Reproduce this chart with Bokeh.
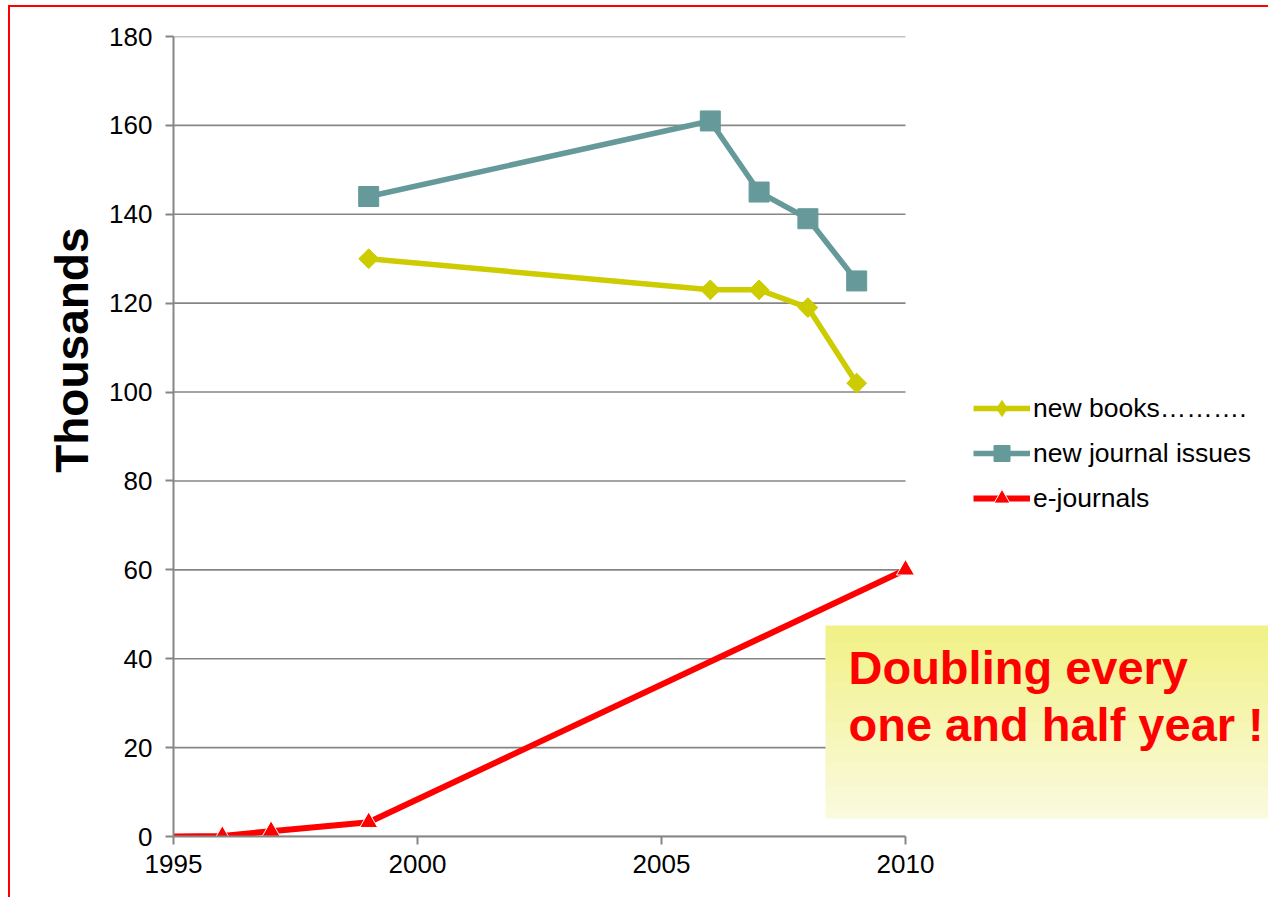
import math
from bokeh.plotting import figure
from bokeh.models import (Range1d, FixedTicker, Legend, LegendItem, BoxAnnotation, Label,
                          Title, InlineStyleSheet)
from bokeh.embed import file_html
from bokeh.resources import INLINE

# ---- data ----
years_books = [1999, 2006, 2007, 2008, 2009]
new_books = [130, 123, 123, 119, 102]
years_journals = [1999, 2006, 2007, 2008, 2009]
new_journal_issues = [144, 161, 145, 139, 125]
years_ejournals = [1995, 1996, 1997, 1999, 2010]
e_journals = [0, 0.1, 1.2, 3.2, 60]
x_ticks = [1995, 2000, 2005, 2010]
y_ticks = [0, 20, 40, 60, 80, 100, 120, 140, 160, 180]
labels = ["new books\u2026\u2026\u2026.", "new journal issues", "e-journals"]

FONT = "Liberation Sans"
GRAY = "#868686"
YEL = "#CCCC00"
TEAL = "#669999"
RED = "#FF0000"

W, H = 1268, 897
LEFT, TOP, BOTTOM = 173, 36, 61
AXIS_PX = 732          # pixel length of the 1995-2010 axis
frame_px = W - LEFT    # frame runs to the right edge so the note box can overflow
x_end = x_ticks[0] + (x_ticks[-1] - x_ticks[0]) * frame_px / AXIS_PX

p = figure(width=W, height=H, output_backend="svg", toolbar_location=None,
           x_range=Range1d(x_ticks[0], x_end), y_range=Range1d(y_ticks[0], y_ticks[-1]),
           min_border_left=LEFT, min_border_right=0, min_border_top=TOP, min_border_bottom=BOTTOM)
p.outline_line_color = None
p.background_fill_color = "white"
p.border_fill_color = "white"

p.xaxis.ticker = FixedTicker(ticks=x_ticks)
p.xaxis.bounds = (x_ticks[0], x_ticks[-1])
p.yaxis.ticker = FixedTicker(ticks=y_ticks)
for ax in (p.xaxis, p.yaxis):
    ax.axis_line_color = GRAY
    ax.axis_line_width = 2
    ax.major_tick_line_color = GRAY
    ax.major_tick_line_width = 2
    ax.major_tick_in = 0
    ax.major_tick_out = 8
    ax.minor_tick_line_color = None
    ax.major_label_text_font = FONT
    ax.major_label_text_font_size = "26px"
    ax.major_label_text_color = "black"
p.xaxis.major_label_standoff = 10
p.yaxis.major_label_standoff = 13

# horizontal gridlines limited to the axis span
p.xgrid.visible = False
p.ygrid.visible = False
n = len(y_ticks)
p.segment(x0=[x_ticks[0]] * n, x1=[x_ticks[-1]] * n, y0=y_ticks, y1=y_ticks,
          line_color=GRAY, line_width=1.6, level="underlay")

# ---- series ----
rb = p.line(years_books, new_books, line_color=YEL, line_width=5.5)
# narrow diamonds (hidden under the rotated squares) give the legend its diamond symbol
sb_leg = p.scatter(years_books, new_books, marker="diamond", size=17, fill_color=YEL, line_color=YEL)
sb = p.scatter(years_books, new_books, marker="square", angle=math.pi / 4, size=14,
               fill_color=YEL, line_color=YEL)
rj = p.line(years_journals, new_journal_issues, line_color=TEAL, line_width=5.5)
sj = p.scatter(years_journals, new_journal_issues, marker="square", size=20,
               fill_color=TEAL, line_color=TEAL)
re = p.line(years_ejournals, e_journals, line_color=RED, line_width=6)
se = p.scatter(years_ejournals[1:], e_journals[1:], marker="triangle", size=18,
               fill_color=RED, line_color="white", line_width=1)

legend = Legend(items=[LegendItem(label=labels[0], renderers=[rb, sb_leg]),
                       LegendItem(label=labels[1], renderers=[rj, sj]),
                       LegendItem(label=labels[2], renderers=[re, se])],
                location=(800, 318), orientation="vertical",
                glyph_width=57, glyph_height=40, label_height=40, spacing=5,
                padding=0, margin=0, label_standoff=3,
                border_line_color=None, background_fill_alpha=0,
                label_text_font=FONT, label_text_font_size="26.5px", label_text_color="black")
p.add_layout(legend)

# ---- annotation box with vertical gradient ----
top_c = (241, 241, 135)
bot_c = (250, 250, 223)
box_top, box_bottom, box_left, box_right = 211, 18, 652, 1200
N = 24
h = (box_top - box_bottom) / N
for i in range(N):
    t = i / (N - 1)
    c = tuple(int(round(top_c[k] + (bot_c[k] - top_c[k]) * t)) for k in range(3))
    col = "#%02x%02x%02x" % c
    p.add_layout(BoxAnnotation(left=box_left, right=box_right,
                               top=box_top - i * h, bottom=max(box_bottom, box_top - (i + 1) * h - 0.8),
                               left_units="screen", right_units="screen",
                               top_units="screen", bottom_units="screen",
                               fill_color=col, fill_alpha=1, line_alpha=0, level="annotation"))

for txt, yy in (("Doubling every", 169), ("one and half year !", 112)):
    p.add_layout(Label(x=675, y=yy, x_units="screen", y_units="screen", text=txt,
                       text_font=FONT, text_font_size="47px", text_font_style="bold",
                       text_color=RED, text_baseline="alphabetic", text_align="left"))

# y-axis title
p.add_layout(Title(text="Thousands", align="right", offset=191, standoff=18,
                   text_font=FONT, text_font_size="46px", text_font_style="bold",
                   text_color="black"), "left")

# red outer border (frame of the slide picture)
p.stylesheets = [InlineStyleSheet(css="""
:host { position: relative; }
:host::after { content: ""; position: absolute; left: 8px; top: 5px; right: 0; bottom: 0;
  border-left: 2px solid #ff0000; border-top: 2px solid #ff0000; pointer-events: none; z-index: 100; }
""")]

open("out.html", "w").write(file_html(p, INLINE))
